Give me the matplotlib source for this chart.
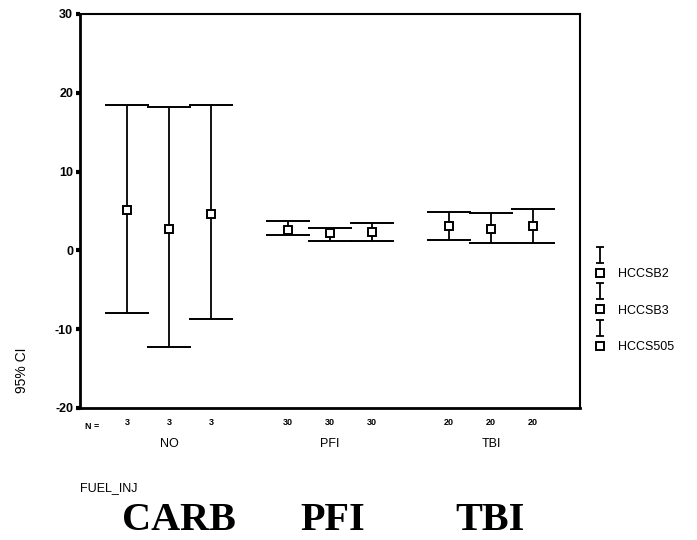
import matplotlib
matplotlib.use('Agg')
import matplotlib.pyplot as plt
import numpy as np
from matplotlib.path import Path
from matplotlib.lines import Line2D

plt.rcParams['font.family'] = ['Liberation Sans', 'DejaVu Sans']
plt.rcParams['axes.unicode_minus'] = False

# categories and series
groups = ['NO', 'PFI', 'TBI']
bottom_labels = ['CARB', 'PFI', 'TBI']
series = ['HCCSB2', 'HCCSB3', 'HCCS505']
n_counts = [[3, 3, 3], [30, 30, 30], [20, 20, 20]]

# mean, lower CI, upper CI per group (rows) and series (cols)
means = [[5.1, 2.7, 4.6],
         [2.6, 2.15, 2.3],
         [3.1, 2.7, 3.1]]
lower = [[-7.9, -12.3, -8.7],
         [1.9, 1.2, 1.2],
         [1.3, 1.0, 1.0]]
upper = [[18.5, 18.2, 18.4],
         [3.7, 2.9, 3.5],
         [4.9, 4.8, 5.2]]

means = np.array(means)
lower = np.array(lower)
upper = np.array(upper)

fig = plt.figure(figsize=(6.97, 5.40), dpi=100)
ax = fig.add_axes([80/697, 1-408/540, 500/697, 394/540])

offsets = [-0.26, 0.0, 0.26]
xt, xl = [], []
for j, s in enumerate(series):
    x = np.arange(len(groups)) + offsets[j]
    m = means[:, j]
    yerr = [m - lower[:, j], upper[:, j] - m]
    ax.errorbar(x, m, yerr=yerr, fmt='s', mfc='white', mec='black', mew=1.4,
                ms=6, color='black', elinewidth=1.3, capsize=15.5, capthick=2)
    xt += list(x)
    xl += [str(n_counts[g][j]) for g in range(len(groups))]

ax.set_xlim(-0.553, 2.553)
ax.set_ylim(-20, 30)
ax.set_yticks([-20, -10, 0, 10, 20, 30])
ax.tick_params(axis='y', direction='out', length=3, width=3, pad=2, labelsize=9)
for lab in ax.get_yticklabels():
    lab.set_fontweight('bold')
ax.set_xticks(xt)
ax.set_xticklabels(xl, fontsize=6.5, fontweight='bold')
ax.tick_params(axis='x', length=0, pad=7)

for sp in ['left', 'bottom']:
    ax.spines[sp].set_linewidth(2)
for sp in ['top', 'right']:
    ax.spines[sp].set_linewidth(1.5)

ax.text(-0.48, -0.035, 'N =', transform=ax.get_xaxis_transform(), ha='center', va='top',
        fontsize=6.5, fontweight='bold')
for i, g in enumerate(groups):
    ax.text(i, -0.075, g, transform=ax.get_xaxis_transform(), ha='center', va='top', fontsize=9)

fig.text(22/697, 1-370/540, '95% CI', rotation=90, ha='center', va='center', fontsize=10)
fig.text(80/697, 1-488/540, 'FUEL_INJ', ha='left', va='center', fontsize=9)
for lab, xc in zip(bottom_labels, [179, 333, 490]):
    fig.text(xc/697, 1-520/540, lab, ha='center', va='center', fontsize=29,
             fontweight='bold', family='Liberation Serif')

# legend: I-glyph then square for each series
ibar = Path([(-0.5, -1), (0.5, -1), (0, -1), (0, 1), (-0.5, 1), (0.5, 1)],
            [Path.MOVETO, Path.LINETO, Path.MOVETO, Path.LINETO, Path.MOVETO, Path.LINETO])
handles, labels = [], []
for s in series:
    handles.append(Line2D([], [], ls='none', marker=ibar, ms=11, mew=1.3, color='black'))
    labels.append(' ')
    handles.append(Line2D([], [], ls='none', marker='s', ms=5.5, mfc='white', mec='black', mew=1.4))
    labels.append(s)
fig.legend(handles, labels, loc='upper left', bbox_to_anchor=(594/697, 1-250/540),
           frameon=False, handlelength=1.0, handletextpad=0.9, borderpad=0,
           borderaxespad=0, labelspacing=0.5, fontsize=9)

fig.savefig('out.png', dpi=100)
